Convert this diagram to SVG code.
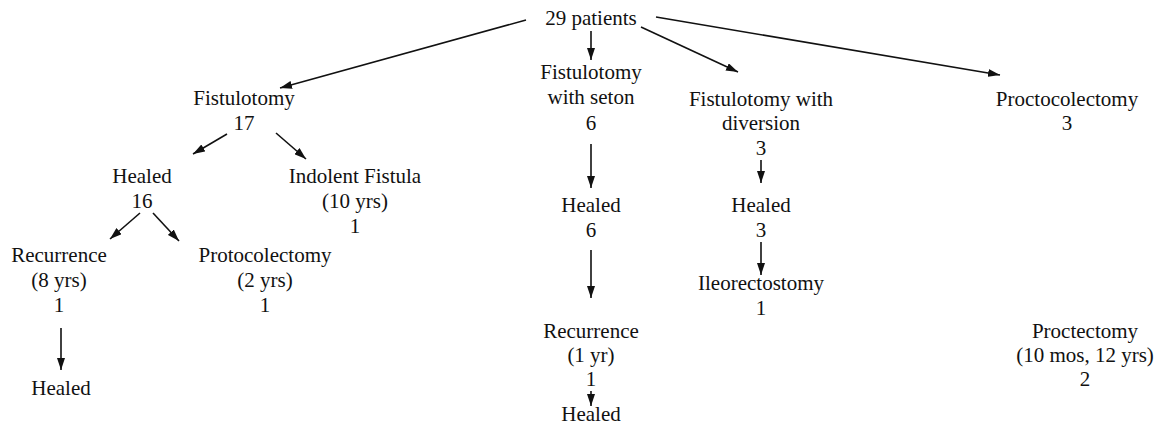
<svg xmlns="http://www.w3.org/2000/svg" width="1154" height="429" viewBox="0 0 1154 429">
<style>
text{font-family:"Liberation Serif","Times New Roman",serif;font-size:21px;fill:#111;text-anchor:middle}
.c line{stroke:#111;stroke-width:1.6;fill:none}
</style>
<defs>
<marker id="ah" viewBox="0 0 12 8" refX="12" refY="4" markerWidth="12" markerHeight="8" markerUnits="userSpaceOnUse" orient="auto">
<path d="M0,0 L12,4 L0,8 Z" fill="#111"/>
</marker>
</defs>
<rect width="1154" height="429" fill="#fff"/>
<g class="c" id="connectors">
<line x1="526" y1="20" x2="280" y2="88" marker-end="url(#ah)"/>
<line x1="591" y1="31" x2="591" y2="60" marker-end="url(#ah)"/>
<line x1="641" y1="27" x2="738" y2="72" marker-end="url(#ah)"/>
<line x1="656" y1="17" x2="1000" y2="75" marker-end="url(#ah)"/>
<line x1="227" y1="134" x2="193" y2="154" marker-end="url(#ah)"/>
<line x1="276" y1="133" x2="306" y2="159" marker-end="url(#ah)"/>
<line x1="140" y1="213" x2="110" y2="239" marker-end="url(#ah)"/>
<line x1="153" y1="213" x2="179" y2="241" marker-end="url(#ah)"/>
<line x1="61" y1="328" x2="61" y2="370" marker-end="url(#ah)"/>
<line x1="591" y1="144" x2="591" y2="188" marker-end="url(#ah)"/>
<line x1="591" y1="250" x2="591" y2="298" marker-end="url(#ah)"/>
<line x1="591" y1="391" x2="591" y2="406" marker-end="url(#ah)"/>
<line x1="761" y1="160" x2="761" y2="183" marker-end="url(#ah)"/>
<line x1="761" y1="242" x2="761" y2="275" marker-end="url(#ah)"/>
</g>
<g id="n-root"><text x="591" y="25">29 patients</text></g>
<g id="n-fistulotomy"><text x="244" y="105">Fistulotomy</text><text x="244" y="130">17</text></g>
<g id="n-seton"><text x="591" y="79">Fistulotomy</text><text x="591" y="104">with seton</text><text x="591" y="130">6</text></g>
<g id="n-diversion"><text x="761" y="106">Fistulotomy with</text><text x="761" y="130">diversion</text><text x="761" y="155">3</text></g>
<g id="n-proctocolectomy"><text x="1067" y="106">Proctocolectomy</text><text x="1067" y="130">3</text></g>
<g id="n-healed16"><text x="142" y="183">Healed</text><text x="142" y="208">16</text></g>
<g id="n-indolent"><text x="355" y="183">Indolent Fistula</text><text x="355" y="208">(10 yrs)</text><text x="355" y="233">1</text></g>
<g id="n-recurrence8"><text x="59" y="262">Recurrence</text><text x="59" y="287">(8 yrs)</text><text x="59" y="312">1</text></g>
<g id="n-protocolectomy"><text x="265" y="262">Protocolectomy</text><text x="265" y="287">(2 yrs)</text><text x="265" y="312">1</text></g>
<g id="n-healed-a"><text x="61" y="395">Healed</text></g>
<g id="n-healed6"><text x="591" y="212">Healed</text><text x="591" y="237">6</text></g>
<g id="n-recurrence1"><text x="591" y="338">Recurrence</text><text x="591" y="362">(1 yr)</text><text x="591" y="386">1</text></g>
<g id="n-healed-b"><text x="591" y="421">Healed</text></g>
<g id="n-healed3"><text x="761" y="212">Healed</text><text x="761" y="237">3</text></g>
<g id="n-ileo"><text x="761" y="290">Ileorectostomy</text><text x="761" y="315">1</text></g>
<g id="n-proctectomy"><text x="1085" y="338">Proctectomy</text><text x="1085" y="362">(10 mos, 12 yrs)</text><text x="1085" y="386">2</text></g>
</svg>
